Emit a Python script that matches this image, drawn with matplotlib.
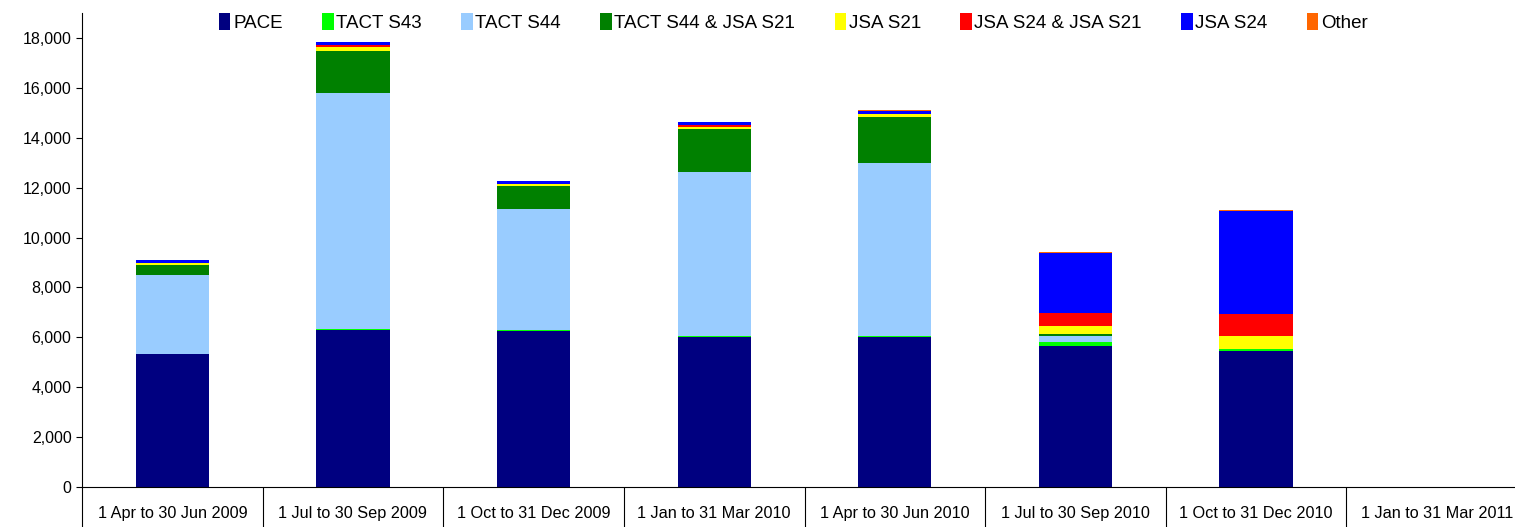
import numpy as np
import matplotlib
matplotlib.use('Agg')
import matplotlib.pyplot as plt
from matplotlib.ticker import FuncFormatter, FixedLocator

# Datos
quarters = ['1 Apr to 30 Jun 2009', '1 Jul to 30 Sep 2009', '1 Oct to 31 Dec 2009',
            '1 Jan to 31 Mar 2010', '1 Apr to 30 Jun 2010', '1 Jul to 30 Sep 2010',
            '1 Oct to 31 Dec 2010', '1 Jan to 31 Mar 2011']
pace = [5330, 6300, 6250, 6000, 6000, 5650, 5450, 0]
tact_s43 = [0, 40, 40, 50, 50, 165, 80, 0]
tact_s44 = [3170, 9460, 4860, 6580, 6940, 240, 0, 0]
tact_s44_jsa_s21 = [400, 1680, 920, 1730, 1850, 80, 0, 0]
jsa_s21 = [80, 160, 80, 80, 120, 320, 525, 0]
jsa_s24_jsa_s21 = [0, 60, 0, 80, 0, 525, 885, 0]
jsa_s24 = [120, 150, 120, 120, 120, 2405, 4130, 0]
other = [0, 0, 0, 0, 40, 35, 40, 0]

series = [('PACE', pace, '#000080'),
          ('TACT S43', tact_s43, '#00FF00'),
          ('TACT S44', tact_s44, '#99CCFF'),
          ('TACT S44 & JSA S21', tact_s44_jsa_s21, '#008000'),
          ('JSA S21', jsa_s21, '#FFFF00'),
          ('JSA S24 & JSA S21', jsa_s24_jsa_s21, '#FF0000'),
          ('JSA S24', jsa_s24, '#0000FF'),
          ('Other', other, '#FF6600')]

plt.rcParams['font.family'] = ['Liberation Sans', 'DejaVu Sans']

fig = plt.figure(figsize=(15.15, 5.27), dpi=100)
ax = fig.add_axes([82/1515, 40/527, 1445/1515, 474/527])

x = np.arange(len(quarters))
bottom = np.zeros(len(quarters))
for name, vals, color in series:
    vals = np.array(vals, dtype=float)
    ax.bar(x, vals, width=0.405, bottom=bottom, color=color, label=name, linewidth=0)
    bottom += vals

ax.set_xlim(-0.5, len(quarters) - 0.5)
ax.set_ylim(0, 19000)
ax.set_yticks(np.arange(0, 18001, 2000))
ax.yaxis.set_major_formatter(FuncFormatter(lambda v, p: f'{int(v):,}'))
ax.tick_params(axis='y', direction='out', length=4, labelsize=11.5, width=0.8)

ax.set_xticks(x)
ax.set_xticklabels(quarters, fontsize=11.7)
ax.tick_params(axis='x', which='major', length=0, pad=14)
ax.xaxis.set_minor_locator(FixedLocator(np.arange(-0.5, len(quarters), 1.0)))
ax.tick_params(axis='x', which='minor', length=29, width=0.8, direction='out')

ax.spines['top'].set_visible(False)
ax.spines['right'].set_visible(False)

ax.legend(loc='upper center', bbox_to_anchor=(0.4924, 1.035), ncol=8, frameon=False,
          fontsize=13.5, handlelength=0.6, handleheight=1.0, handletextpad=0.15,
          columnspacing=2.1)

plt.savefig('out.png', dpi=100)
